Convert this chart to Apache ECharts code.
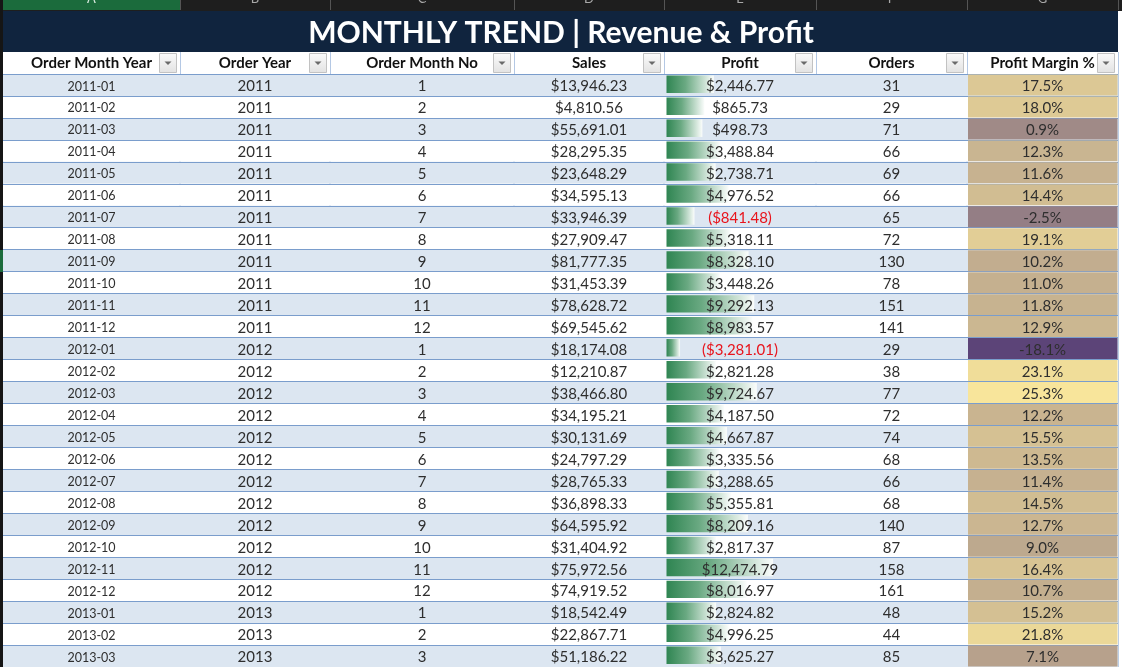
<!DOCTYPE html>
<html>
<head>
<meta charset="utf-8">
<script src="https://cdn.jsdelivr.net/npm/echarts@6/dist/echarts.min.js"></script>
<style>
  html, body { margin: 0; padding: 0; background: #fff; }
  #main { width: 1122px; height: 667px; }
</style>
</head>
<body>
<div id="main"></div>
<script>
// table data
const months = ['2011-01','2011-02','2011-03','2011-04','2011-05','2011-06','2011-07','2011-08','2011-09','2011-10','2011-11','2011-12',
  '2012-01','2012-02','2012-03','2012-04','2012-05','2012-06','2012-07','2012-08','2012-09','2012-10','2012-11','2012-12',
  '2013-01','2013-02','2013-03'];
const orderYears = [2011,2011,2011,2011,2011,2011,2011,2011,2011,2011,2011,2011,
  2012,2012,2012,2012,2012,2012,2012,2012,2012,2012,2012,2012,2013,2013,2013];
const monthNos = [1,2,3,4,5,6,7,8,9,10,11,12,1,2,3,4,5,6,7,8,9,10,11,12,1,2,3];
const sales = [13946.23,4810.56,55691.01,28295.35,23648.29,34595.13,33946.39,27909.47,81777.35,31453.39,78628.72,69545.62,
  18174.08,12210.87,38466.80,34195.21,30131.69,24797.29,28765.33,36898.33,64595.92,31404.92,75972.56,74919.52,
  18542.49,22867.71,51186.22];
const profit = [2446.77,865.73,498.73,3488.84,2738.71,4976.52,-841.48,5318.11,8328.10,3448.26,9292.13,8983.57,
  -3281.01,2821.28,9724.67,4187.50,4667.87,3335.56,3288.65,5355.81,8209.16,2817.37,12474.79,8016.97,
  2824.82,4996.25,3625.27];
const orders = [31,29,71,66,69,66,65,72,130,78,151,141,29,38,77,72,74,68,66,68,140,87,158,161,48,44,85];
const marginPct = [17.5,18.0,0.9,12.3,11.6,14.4,-2.5,19.1,10.2,11.0,11.8,12.9,
  -18.1,23.1,25.3,12.2,15.5,13.5,11.4,14.5,12.7,9.0,16.4,10.7,15.2,21.8,7.1];
const headers = ['Order Month Year','Order Year','Order Month No','Sales','Profit','Orders','Profit Margin %'];
const colLetters = ['A','B','C','D','E','F','G'];

// layout
const colLeft = [3, 180, 330, 514, 664, 816, 967];
const colWidth = [177, 150, 184, 150, 152, 151, 151];
const tableTop = 74, rowH = 22;
const FONT = 'Lato';
const BORDER = '#7a9dcc';
const TEXT = '#2e2e2e';
// data bar scale (Excel style: shortest bar for the minimum)
const profitMin = -6000, profitMax = 19750;

function money(v) {
  const s = Math.abs(v).toFixed(2).replace(/\B(?=(\d{3})+(?!\d))/g, ',');
  return v < 0 ? '($' + s + ')' : '$' + s;
}

const cellText = [
  i => months[i],
  i => String(orderYears[i]),
  i => String(monthNos[i]),
  i => money(sales[i]),
  i => money(profit[i]),
  i => String(orders[i]),
  i => marginPct[i].toFixed(1) + '%'
];
const colValues = [months.map((m, i) => i), orderYears, monthNos, sales, profit, orders, marginPct];

function textEl(c, i, cs, y) {
  return {
    type: 'text',
    z2: 5,
    style: {
      x: cs.x + cs.width / 2,
      y: y + 1.5,
      text: cellText[c](i),
      align: 'center',
      verticalAlign: 'middle',
      fontFamily: FONT,
      fontSize: c === 0 ? 12.5 : 15,
      fill: (c === 4 && profit[i] < 0) ? '#e8141c' : TEXT
    }
  };
}

function renderCell(c) {
  return function (params, api) {
    const i = params.dataIndex;
    const cs = params.coordSys;
    const pt = api.coord([api.value(0), api.value(1)]);
    const h = api.size([0, 1])[1];
    const y = pt[1];
    const children = [];
    if (c === 4) {
      const p0 = api.coord([profitMin, api.value(1)]);
      children.push({
        type: 'rect',
        shape: { x: p0[0] + 2.5, y: y - h / 2 + 1.5, width: pt[0] - p0[0] - 2.5, height: h - 4.5 },
        style: {
          fill: new echarts.graphic.LinearGradient(0, 0, 1, 0, [
            { offset: 0, color: '#2f8552' },
            { offset: 0.4, color: '#6aa982' },
            { offset: 1, color: '#fbfdfc' }
          ])
        }
      });
    } else if (c === 6) {
      children.push({
        type: 'rect',
        shape: { x: cs.x + 1, y: y - h / 2 + 0.5, width: cs.width - 1.5, height: h - 1 },
        style: { fill: api.visual('color') }
      });
    }
    children.push(textEl(c, i, cs, y));
    return { type: 'group', children: children };
  };
}

const grid = colLeft.map((l, c) => ({
  left: l, top: tableTop, width: colWidth[c], height: rowH * months.length,
  show: true, borderColor: BORDER, borderWidth: 1, backgroundColor: 'transparent'
}));

const xAxis = colLeft.map((l, c) => ({
  gridIndex: c, type: 'value', position: 'top', z: 5,
  min: c === 4 ? profitMin : 0, max: c === 4 ? profitMax : 1,
  axisLine: { show: false }, axisTick: { show: false }, axisLabel: { show: false }, splitLine: { show: false },
  name: headers[c], nameLocation: 'middle', nameGap: 3,
  nameTextStyle: { fontFamily: FONT, fontSize: 15, fontWeight: 'bold', color: '#111' }
}));

const yAxis = colLeft.map((l, c) => ({
  gridIndex: c, type: 'category', data: months, inverse: true,
  axisLine: { show: false }, axisTick: { show: false }, axisLabel: { show: false },
  splitLine: { show: true, interval: 0, lineStyle: { color: BORDER, width: 1 } },
  splitArea: { show: true, interval: 0, areaStyle: { color: ['#dce6f1', '#ffffff'] } }
}));

const series = colValues.map((vals, c) => ({
  type: 'custom',
  xAxisIndex: c, yAxisIndex: c,
  renderItem: renderCell(c),
  data: months.map((m, i) => [vals[i], i]),
  silent: true
}));

// sheet chrome
const graphics = [
  { type: 'rect', z: 0, shape: { x: 0, y: 0, width: 1122, height: 11 }, style: { fill: '#1e1e1e' } },
  { type: 'rect', z: 0, shape: { x: 3, y: 0, width: 177, height: 10 }, style: { fill: '#1b6b3c' } },
  { type: 'rect', z: 0, shape: { x: 0, y: 0, width: 3, height: 667 }, style: { fill: '#151515' } },
  { type: 'rect', z: 0, shape: { x: 0, y: 250, width: 3, height: 22 }, style: { fill: '#1b6b3c' } },
  { type: 'rect', z: 0, shape: { x: 3, y: 11, width: 1115, height: 41 }, style: { fill: '#10243e' } },
  { type: 'rect', z: 0, shape: { x: 3, y: 52, width: 1115, height: 22 }, style: { fill: '#ffffff' } }
];
colLeft.forEach((l, c) => {
  const r = l + colWidth[c];
  graphics.push({ type: 'line', z: 1, shape: { x1: r + 0.5, y1: 0, x2: r + 0.5, y2: 10 }, style: { stroke: '#555', lineWidth: 1 } });
  graphics.push({ type: 'text', z: 1, style: { x: l + colWidth[c] / 2, y: -1, text: colLetters[c], align: 'center', verticalAlign: 'middle', fontFamily: FONT, fontSize: 13, fill: c === 0 ? '#d9eadf' : '#a8a8a8' } });
  graphics.push({ type: 'line', z: 1, shape: { x1: r + 0.5, y1: 52, x2: r + 0.5, y2: 74 }, style: { stroke: '#b4c8e4', lineWidth: 1 } });
  // filter drop-down button
  const bx = r - 21, by = 53.5;
  graphics.push({ type: 'rect', z: 10, shape: { x: bx + 0.5, y: by, width: 17, height: 19 },
    style: { fill: new echarts.graphic.LinearGradient(0, 0, 0, 1, [{ offset: 0, color: '#fbfbfb' }, { offset: 1, color: '#e2e2e2' }]), stroke: '#c2c2c2', lineWidth: 1 } });
  graphics.push({ type: 'polygon', z: 11, shape: { points: [[bx + 5.5, by + 8], [bx + 12.5, by + 8], [bx + 9, by + 11.5]] }, style: { fill: '#6a6a6a' } });
});

const chart = echarts.init(document.getElementById('main'));
chart.setOption({
  animation: false,
  backgroundColor: '#ffffff',
  title: {
    text: 'MONTHLY TREND | Revenue & Profit',
    left: 'center', top: 13, z: 20,
    textStyle: { color: '#ffffff', fontSize: 30, fontWeight: 'bold', fontFamily: FONT }
  },
  graphic: { elements: graphics },
  visualMap: {
    show: false, type: 'continuous', seriesIndex: 6, dimension: 0,
    min: Math.min(...marginPct), max: Math.max(...marginPct),
    inRange: { color: ['#5c4478', '#f8e59b'] }
  },
  grid: grid,
  xAxis: xAxis,
  yAxis: yAxis,
  series: series
});
</script>
</body>
</html>
